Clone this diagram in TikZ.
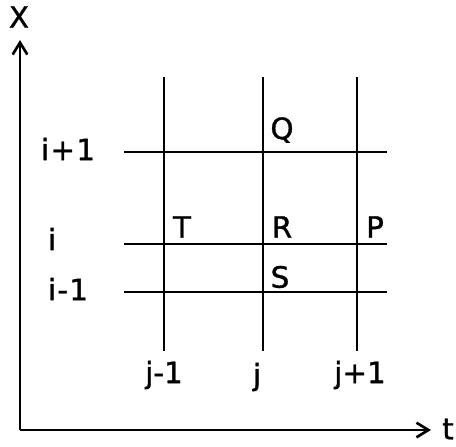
\documentclass[tikz,border=0pt]{standalone}
\usepackage{fontspec}
\setmainfont{DejaVu Sans}[FakeBold=1.2]
\usetikzlibrary{arrows.meta}

\begin{document}
\begin{tikzpicture}[
  x=0.75pt,y=-0.75pt,
  gridline/.style={line width=1.7pt},
  axis/.style={line width=2pt,-{Straight Barb[length=9pt,width=11pt,line width=2pt]}},
  lbl/.style={font=\fontsize{22}{24}\selectfont,inner sep=0pt}
]
  \useasboundingbox (0,0) rectangle (456,446);
  % axes
  \coordinate (origin) at (20,430);
  \coordinate (xtip) at (20,40);
  \coordinate (ttip) at (431,430);
  \draw[axis] (origin)--(xtip);
  \draw[axis] (origin)--(ttip);
  \node[lbl] (xlab) at (19,17) {X};
  \node[lbl] (tlab) at (448,429) {t};
  % grid columns
  \coordinate (jm1top) at (164,77);  \coordinate (jm1bot) at (164,351);
  \coordinate (jtop) at (263,77);    \coordinate (jbot) at (263,351);
  \coordinate (jp1top) at (357,77);  \coordinate (jp1bot) at (357,351);
  \draw[gridline] (jm1top)--(jm1bot);
  \draw[gridline] (jtop)--(jbot);
  \draw[gridline] (jp1top)--(jp1bot);
  % grid rows
  \coordinate (ip1left) at (124,152); \coordinate (ip1right) at (387,152);
  \coordinate (ileft) at (124,244);   \coordinate (iright) at (387,244);
  \coordinate (im1left) at (124,292); \coordinate (im1right) at (387,292);
  \draw[gridline] (ip1left)--(ip1right);
  \draw[gridline] (ileft)--(iright);
  \draw[gridline] (im1left)--(im1right);
  % indices
  \node[lbl] (ip1) at (68,149) {i\kern1pt+\kern1pt1};
  \node[lbl] (i) at (52,239) {i};
  \node[lbl] (im1) at (68,289) {i\kern1pt-\kern1pt1};
  \node[lbl] (jm1) at (164,375) {j-1};
  \node[lbl] (j) at (257,377) {j};
  \node[lbl] (jp1) at (360,375) {j+1};
  % points
  \node[lbl] (Q) at (282,130) {Q};
  \node[lbl] (T) at (182,227) {T};
  \node[lbl] (R) at (282,227) {R};
  \node[lbl] (P) at (375,227) {P};
  \node[lbl] (S) at (280,277) {S};
\end{tikzpicture}
\end{document}
